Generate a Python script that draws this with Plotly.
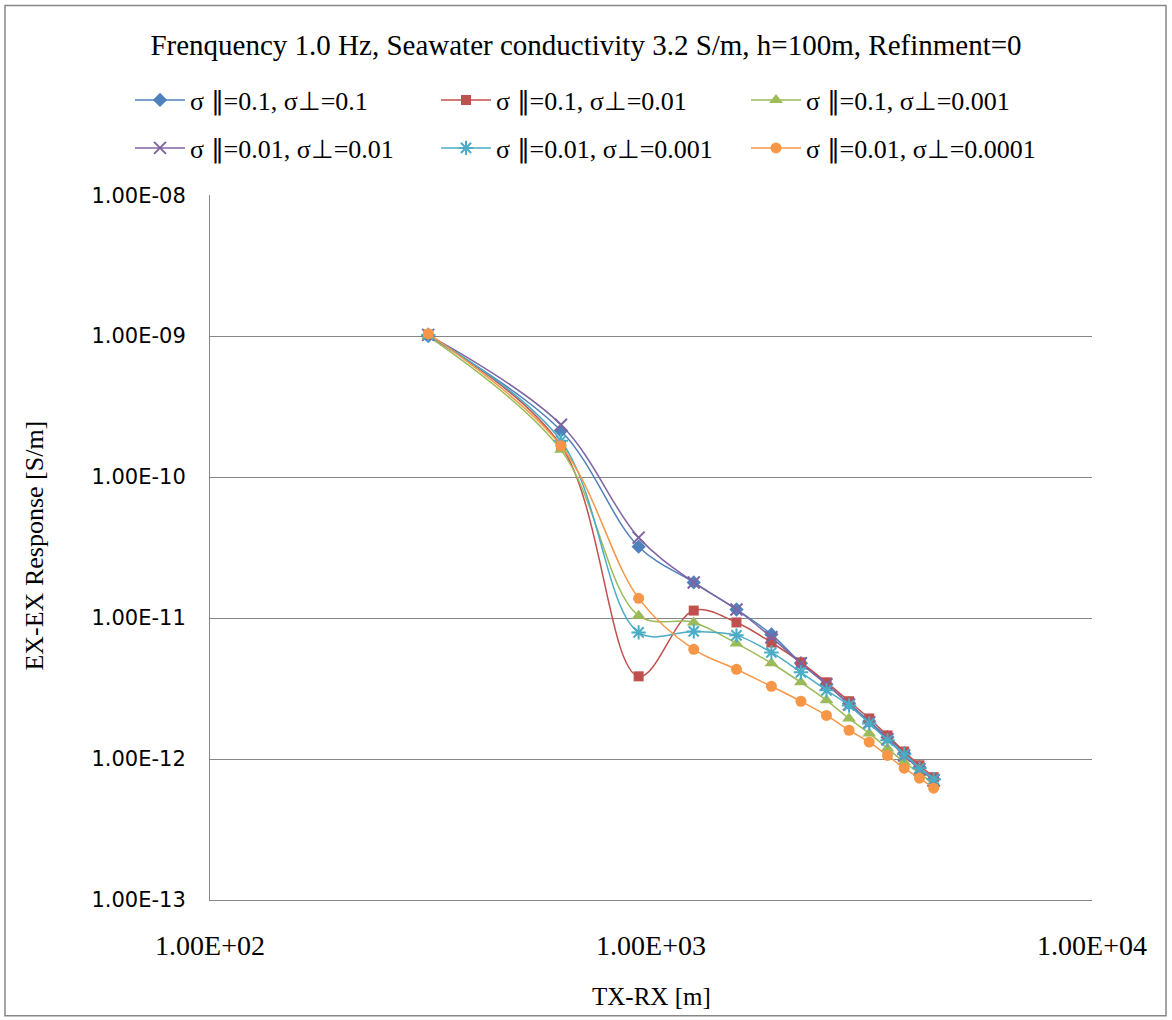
import plotly.graph_objects as go

# TX-RX offsets [m]
offsets = [312.5, 625, 937.5, 1250, 1562.5, 1875, 2187.5, 2500, 2812.5, 3125, 3437.5, 3750, 4062.5, 4375]

# EX-EX response [S/m]
s01_01 = [1.00e-9, 2.13e-10, 3.21e-11, 1.79e-11, 1.15e-11, 7.66e-12, 4.78e-12, 3.39e-12, 2.48e-12, 1.85e-12, 1.43e-12, 1.10e-12, 8.74e-13, 7.19e-13]
s01_001 = [1.02e-9, 1.67e-10, 3.86e-12, 1.13e-11, 9.31e-12, 6.71e-12, 4.85e-12, 3.50e-12, 2.57e-12, 1.94e-12, 1.47e-12, 1.13e-12, 9.03e-13, 7.43e-13]
s01_0001 = [1.00e-9, 1.56e-10, 1.04e-11, 9.31e-12, 6.61e-12, 4.78e-12, 3.50e-12, 2.61e-12, 1.94e-12, 1.52e-12, 1.19e-12, 9.48e-13, 7.94e-13, 6.64e-13]
s001_001 = [1.02e-9, 2.35e-10, 3.72e-11, 1.79e-11, 1.15e-11, 7.30e-12, 4.78e-12, 3.39e-12, 2.44e-12, 1.82e-12, 1.38e-12, 1.06e-12, 8.47e-13, 7.08e-13]
s001_0001 = [1.02e-9, 1.81e-10, 7.91e-12, 8.04e-12, 7.54e-12, 5.70e-12, 4.12e-12, 3.07e-12, 2.40e-12, 1.79e-12, 1.36e-12, 1.08e-12, 8.61e-13, 7.19e-13]
s001_00001 = [1.04e-9, 1.67e-10, 1.38e-11, 6.00e-12, 4.33e-12, 3.28e-12, 2.57e-12, 2.04e-12, 1.60e-12, 1.32e-12, 1.06e-12, 8.61e-13, 7.31e-13, 6.21e-13]

names = ["σ ∥=0.1, σ⊥=0.1", "σ ∥=0.1, σ⊥=0.01", "σ ∥=0.1, σ⊥=0.001",
         "σ ∥=0.01, σ⊥=0.01", "σ ∥=0.01, σ⊥=0.001", "σ ∥=0.01, σ⊥=0.0001"]

y_tickvals = [1e-13, 1e-12, 1e-11, 1e-10, 1e-9, 1e-8]
y_ticktext = ["1.00E-13", "1.00E-12", "1.00E-11", "1.00E-10", "1.00E-09", "1.00E-08"]
x_tickvals = [1e2, 1e3, 1e4]
x_ticktext = ["1.00E+02", "1.00E+03", "1.00E+04"]

series = [s01_01, s01_001, s01_0001, s001_001, s001_0001, s001_00001]
colors = ["#4F81BD", "#C0504D", "#9BBB59", "#8064A2", "#4BACC6", "#F79646"]
symbols = ["diamond", "square", "triangle-up", "x-thin-open", "asterisk-open", "circle"]
sizes = [11, 10, 12, 12, 12, 11]

W, H = 1172, 1020
L, R, T, B = 210, 80, 194, 120
pw, ph = W - L - R, H - T - B

def px(xp):
    return (xp - L) / pw

def py(yp):
    return (H - B - yp) / ph

serif = "Liberation Serif, Times New Roman, serif"

# legend slot positions (pixel): column origin x, row centre y
col_x = [130, 436, 746]
row_y = [100, 148]

fig = go.Figure()
legend_layouts = {}
for i, (vals, nm, c, sym, sz) in enumerate(zip(series, names, colors, symbols, sizes)):
    open_sym = sym.endswith("open")
    lg = "legend" if i == 0 else f"legend{i + 1}"
    fig.add_trace(go.Scatter(
        x=offsets, y=vals, name=nm, mode="lines+markers",
        line=dict(color=c, width=1.5, shape="spline", smoothing=1.0),
        marker=dict(symbol=sym, size=sz, color=c,
                    line=dict(color=c, width=2 if open_sym else 0)),
        legend=lg,
    ))
    r, col = divmod(i, 3)
    legend_layouts[lg] = dict(
        orientation="h", xref="container", yref="container",
        x=col_x[col] / W, y=1 - row_y[r] / H,
        xanchor="left", yanchor="middle",
        font=dict(family=serif, size=26, color="#000000"),
        itemwidth=50, bgcolor="rgba(0,0,0,0)",
    )

fig.update_layout(
    width=W, height=H,
    margin=dict(l=L, r=R, t=T, b=B),
    paper_bgcolor="white", plot_bgcolor="white",
    title=dict(text="Frenquency 1.0 Hz, Seawater conductivity 3.2 S/m, h=100m, Refinment=0",
               x=0.5, xref="container", y=1 - 45 / H, yref="container",
               xanchor="center", yanchor="middle",
               font=dict(family=serif, size=29, color="#000000")),
    xaxis=dict(type="log", range=[2, 4], tickvals=x_tickvals, ticktext=x_ticktext,
               showgrid=False, showline=True, linecolor="#868686", linewidth=1,
               ticks="", ticklabelstandoff=20, zeroline=False,
               tickfont=dict(family=serif, size=28, color="#000000")),
    yaxis=dict(type="log", range=[-13, -8], tickvals=y_tickvals, ticktext=y_ticktext,
               showgrid=True, gridcolor="#868686", gridwidth=1,
               showline=True, linecolor="#868686", linewidth=1,
               ticks="", ticklabelstandoff=19, zeroline=False,
               tickfont=dict(family="DejaVu Sans, Verdana, sans-serif", size=21, color="#000000")),
    annotations=[
        dict(text="TX-RX [m]", xref="paper", yref="paper", x=0.5, y=py(997),
             xanchor="center", yanchor="middle", showarrow=False,
             font=dict(family=serif, size=25, color="#000000")),
        dict(text="EX-EX Response [S/m]", xref="paper", yref="paper", x=px(35), y=py(545),
             xanchor="center", yanchor="middle", showarrow=False, textangle=-90,
             font=dict(family=serif, size=26, color="#000000")),
    ],
    shapes=[dict(type="rect", xref="paper", yref="paper",
                 x0=px(5), x1=px(1166), y0=py(1016), y1=py(4),
                 line=dict(color="#868686", width=1.5), fillcolor="rgba(0,0,0,0)",
                 layer="below")],
    showlegend=True,
    **legend_layouts,
)

fig.write_html("out.html")
